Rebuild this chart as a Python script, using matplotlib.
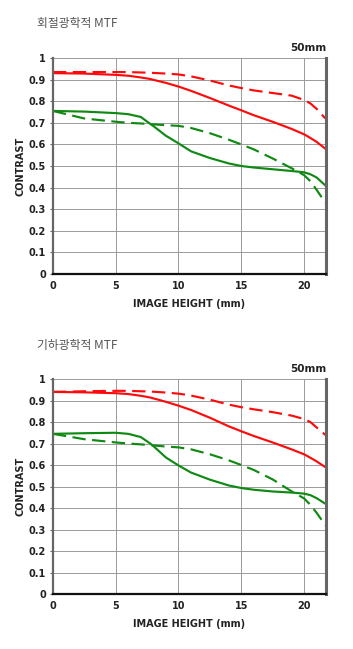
import matplotlib

matplotlib.use("Agg")
import matplotlib.pyplot as plt

plt.rcParams["font.family"] = ["DejaVu Sans", "Noto Sans CJK KR"]

# image height (mm)
x_pts = [0, 2.5, 5, 6, 7, 7.75, 8, 9, 10, 11, 12.5, 14, 15, 16, 17.5, 19, 20, 20.5, 21, 21.7]

# 회절광학적 MTF
diff_s_solid = [0.93, 0.928, 0.922, 0.918, 0.91, 0.903, 0.899, 0.885, 0.868, 0.848, 0.815, 0.78, 0.758, 0.735, 0.705, 0.672, 0.647, 0.63, 0.612, 0.58]
diff_m_dash = [0.935, 0.935, 0.935, 0.935, 0.933, 0.932, 0.931, 0.928, 0.924, 0.915, 0.896, 0.873, 0.861, 0.85, 0.838, 0.826, 0.806, 0.79, 0.765, 0.72]
diff_g_solid = [0.755, 0.752, 0.745, 0.74, 0.727, 0.695, 0.685, 0.64, 0.605, 0.568, 0.537, 0.512, 0.50, 0.493, 0.485, 0.477, 0.471, 0.462, 0.447, 0.41]
diff_g_dash = [0.755, 0.72, 0.705, 0.70, 0.697, 0.694, 0.693, 0.689, 0.686, 0.676, 0.652, 0.622, 0.60, 0.577, 0.535, 0.49, 0.458, 0.43, 0.39, 0.33]

# 기하광학적 MTF
geo_s_solid = [0.94, 0.938, 0.934, 0.93, 0.922, 0.914, 0.91, 0.894, 0.876, 0.856, 0.82, 0.78, 0.757, 0.735, 0.705, 0.673, 0.65, 0.634, 0.617, 0.59]
geo_m_dash = [0.94, 0.943, 0.945, 0.945, 0.943, 0.942, 0.941, 0.937, 0.932, 0.923, 0.904, 0.881, 0.869, 0.859, 0.846, 0.83, 0.814, 0.8, 0.775, 0.74]
geo_g_solid = [0.745, 0.748, 0.75, 0.745, 0.73, 0.70, 0.688, 0.635, 0.598, 0.565, 0.532, 0.505, 0.493, 0.485, 0.477, 0.472, 0.467, 0.46, 0.446, 0.42]
geo_g_dash = [0.745, 0.72, 0.705, 0.70, 0.696, 0.693, 0.691, 0.686, 0.682, 0.673, 0.65, 0.622, 0.60, 0.577, 0.533, 0.478, 0.445, 0.415, 0.378, 0.32]

x_ticks = [0, 5, 10, 15, 20]
y_ticks = [0, 0.1, 0.2, 0.3, 0.4, 0.5, 0.6, 0.7, 0.8, 0.9, 1]
y_labels = ["0", "0.1", "0.2", "0.3", "0.4", "0.5", "0.6", "0.7", "0.8", "0.9", "1"]

RED = "#ff0a0a"
GREEN = "#0e8a12"

fig = plt.figure(figsize=(3.53, 6.49), dpi=100)


def draw_panel(ax, title, s_solid, m_dash, g_solid, g_dash, title_y):
    ax.set_xlim(0, 21.75)
    ax.set_ylim(0, 1)
    ax.set_xticks(x_ticks)
    ax.set_yticks(y_ticks)
    ax.set_xticklabels([str(t) for t in x_ticks], fontsize=7, fontweight="bold", color="#222222")
    ax.set_yticklabels(y_labels, fontsize=7, fontweight="bold", color="#222222")
    ax.tick_params(axis="y", length=2.5, width=0.8, color="#666666", pad=2.5)
    ax.tick_params(axis="x", length=0, pad=5)
    ax.grid(True, color="#9a9a9a", linewidth=0.7)
    ax.set_axisbelow(True)
    ax.spines["left"].set_color("#666666")
    ax.spines["left"].set_linewidth(1.6)
    ax.spines["bottom"].set_color("#111111")
    ax.spines["bottom"].set_linewidth(1.6)
    ax.spines["right"].set_color("#666666")
    ax.spines["right"].set_linewidth(2.2)
    ax.spines["top"].set_visible(False)

    dash = (0, (6.2, 3.0))
    ax.plot(x_pts, m_dash, color=RED, lw=1.55, ls=dash)
    ax.plot(x_pts, s_solid, color=RED, lw=1.55)
    ax.plot(x_pts, g_dash, color=GREEN, lw=1.55, ls=dash)
    ax.plot(x_pts, g_solid, color=GREEN, lw=1.55)

    ax.set_xlabel("IMAGE HEIGHT (mm)", fontsize=7, fontweight="bold", labelpad=6, color="#222222")
    ax.set_ylabel("CONTRAST", fontsize=7, fontweight="bold", labelpad=2, color="#222222")
    ax.text(1.0, 1.025, "50mm", transform=ax.transAxes, ha="right", va="bottom",
            fontsize=7.5, fontweight="bold", color="#222222")
    fig.text(37 / 353, title_y, title, fontsize=8.5, color="#555555",
             family=["Noto Sans CJK KR", "DejaVu Sans"], va="center")


ax1 = fig.add_axes([0.150, 0.5778, 0.7735, 0.3328])
draw_panel(ax1, "회절광학적 MTF", diff_s_solid, diff_m_dash, diff_g_solid, diff_g_dash, 1 - 23 / 649)

ax2 = fig.add_axes([0.150, 0.0847, 0.7735, 0.3313])
draw_panel(ax2, "기하광학적 MTF", geo_s_solid, geo_m_dash, geo_g_solid, geo_g_dash, 1 - 345 / 649)

fig.savefig("out.png", dpi=100)
plt.close(fig)
